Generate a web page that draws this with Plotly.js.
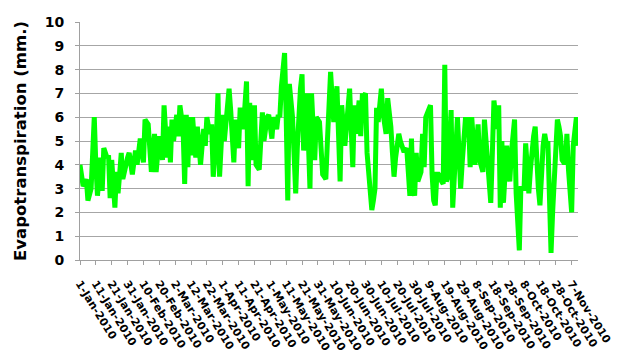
<!DOCTYPE html>
<html>
<head>
<meta charset="utf-8">
<script src="https://cdn.plot.ly/plotly-3.0.1.min.js"></script>
<style>html,body{margin:0;padding:0;background:#fff;}#chart{width:624px;height:363px;}</style>
</head>
<body>
<div id="chart"></div>
<script>
// Daily evapotranspiration (mm.) starting 1-Jan-2010
const startDate = '2010-01-01';
const endDate = '2010-11-11';
const et = [
4.0,3.5,3.1,3.2,3.4,2.5,2.8,3.0,4.5,6.0,
4.0,2.7,3.5,4.3,2.9,4.7,4.5,4.3,4.4,2.6,
4.2,2.6,2.2,3.7,2.8,3.6,4.5,3.4,3.8,4.2,
4.3,4.5,4.1,3.6,4.1,4.6,4.0,4.6,5.1,4.6,
4.1,5.9,5.8,5.7,4.7,3.7,4.5,5.3,3.7,4.5,
5.2,4.7,4.2,6.5,5.0,4.3,5.6,4.1,5.9,5.0,
5.6,6.1,5.2,6.5,6.0,5.5,3.2,6.1,3.9,6.0,
4.4,6.0,5.1,4.3,5.6,4.8,4.0,4.8,5.5,4.8,
6.0,5.6,5.3,5.7,3.5,4.3,5.2,7.0,3.5,4.8,
6.1,5.0,5.9,6.5,7.2,6.3,5.5,4.1,5.9,5.3,
4.7,6.4,5.9,5.5,6.5,7.5,3.1,6.6,4.2,5.4,
6.5,4.0,3.9,3.8,5.0,6.2,5.0,5.5,6.0,6.1,
5.6,5.1,6.0,5.7,5.5,6.1,6.0,7.3,8.0,8.7,
6.0,2.5,7.4,6.7,6.0,4.4,2.8,4.7,6.6,7.2,
7.8,4.6,5.8,7.0,5.0,3.0,7.0,5.6,4.2,6.0,
5.9,5.8,4.7,3.6,3.5,3.4,5.0,6.5,7.9,6.8,
5.8,6.5,7.3,5.3,3.3,6.5,5.6,4.8,5.6,6.4,
7.2,5.5,3.9,6.5,5.3,6.0,6.7,5.2,6.9,6.9,
7.0,4.5,3.7,2.3,2.1,2.5,3.0,6.4,5.8,6.5,
7.2,6.2,5.7,5.3,6.8,6.2,5.6,4.5,3.5,4.3,
5.1,5.3,5.0,4.7,4.6,4.6,4.7,3.7,2.7,5.1,
3.0,2.7,4.5,3.3,3.5,3.7,5.3,3.9,6.0,6.2,
6.3,6.5,3.6,2.5,2.3,3.6,3.6,3.5,3.3,3.2,
8.2,3.3,3.5,4.9,6.3,2.2,3.4,4.5,6.0,4.5,
3.0,4.1,5.2,5.9,5.9,5.9,3.9,6.0,5.0,4.0,
4.8,5.7,4.2,4.0,3.7,5.9,5.0,4.0,3.2,2.4,
4.5,6.7,6.1,5.5,6.5,2.2,5.0,2.4,3.6,4.8,
4.0,3.3,4.5,5.2,5.9,2.8,1.6,0.4,3.1,3.0,
3.0,4.9,3.9,2.8,3.8,4.8,5.2,5.6,3.6,3.0,
2.3,4.2,4.8,5.3,4.9,5.0,3.0,0.3,2.0,3.5,
4.0,5.9,5.6,5.2,4.2,4.1,4.1,5.3,3.8,2.9,
2.0,4.8,5.4,6.0,4.8
];
const yTitle = 'Evapotranspiration (mm.)';

const trace = {
  type: 'scatter',
  mode: 'lines',
  x0: startDate,
  dx: 86400000,
  y: et,
  line: {color: '#00ff00', width: 5},
  hoverinfo: 'skip'
};

const layout = {
  width: 624, height: 363,
  margin: {l: 80, r: 46, t: 22, b: 103},
  paper_bgcolor: '#ffffff', plot_bgcolor: '#ffffff',
  showlegend: false,
  xaxis: {
    type: 'date',
    range: [startDate, endDate],
    tick0: startDate,
    dtick: 864000000,
    tickformat: '%-d-%b-%Y',
    tickangle: 58,
    ticks: 'outside', ticklen: 4, tickcolor: '#a0a0a0',
    ticklabelstandoff: 8,
    showline: true, linecolor: '#a0a0a0', linewidth: 1,
    showgrid: false, zeroline: false,
    tickfont: {family: 'DejaVu Sans', size: 11, color: '#000', weight: 'bold'}
  },
  yaxis: {
    range: [0, 10],
    dtick: 1,
    ticks: 'outside', ticklen: 4, tickcolor: '#a0a0a0',
    ticklabelstandoff: 8,
    showline: true, linecolor: '#a0a0a0', linewidth: 1,
    showgrid: true, gridcolor: '#a6a6a6', gridwidth: 1,
    zeroline: false,
    tickfont: {family: 'DejaVu Sans', size: 14, color: '#000', weight: 'bold'},
    title: {text: yTitle, standoff: 13, font: {family: 'DejaVu Sans', size: 16.5, color: '#000', weight: 'bold'}}
  }
};

Plotly.newPlot('chart', [trace], layout, {displayModeBar: false, staticPlot: true});
</script>
</body>
</html>
